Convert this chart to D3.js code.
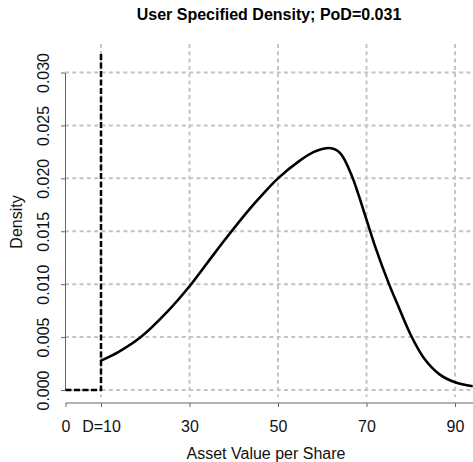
<!DOCTYPE html>
<html>
<head>
<meta charset="utf-8">
<script src="https://cdn.jsdelivr.net/npm/d3@7"></script>
<style>
  html, body { margin: 0; padding: 0; background: #fff; }
  svg { display: block; font-family: "Liberation Sans", Arial, sans-serif; }
</style>
</head>
<body>
<svg id="chart" width="473" height="462"></svg>
<script>
// ---- data ----
const curveX = [10, 14, 19, 25, 30, 34, 38, 44, 47, 50, 55, 58, 60, 62, 63, 64, 65, 66, 67, 68, 70, 72, 75, 77, 80, 83, 86.5, 90, 94];
const curveY = [0.00277, 0.0036, 0.0050, 0.0074, 0.0098, 0.0120, 0.0142, 0.0173, 0.0187, 0.0200, 0.0217, 0.02247, 0.02278, 0.02285, 0.02272, 0.02240, 0.0218, 0.0209, 0.0199, 0.0187, 0.0161, 0.0135, 0.0101, 0.0081, 0.0052, 0.0030, 0.00148, 0.00073, 0.00035];
const defaultX = [0, 10, 10];
const defaultY = [0, 0, 0.0318];
const xTicks = [0, 10, 30, 50, 70, 90];
const xTickLabels = ["0", "D=10", "30", "50", "70", "90"];
const xGrid = [10, 30, 50, 70, 90];
const yTicks = [0, 0.005, 0.010, 0.015, 0.020, 0.025, 0.030];
const yTickLabels = ["0.000", "0.005", "0.010", "0.015", "0.020", "0.025", "0.030"];
const titleText = "User Specified Density; PoD=0.031";
const xTitle = "Asset Value per Share";
const yTitle = "Density";

// ---- layout ----
const W = 473, H = 462;
const plot = { left: 65, top: 44, bottom: 397, axisY: 403 };
const svg = d3.select("#chart");

const x = d3.scaleLinear().domain([0, 10, 90]).range([65.5, 101, 455]);
const y = d3.scaleLinear().domain([0, 0.030]).range([390, 72.5]);

const gridColor = "#c4c4c4";
// vertical grid
svg.append("g").selectAll("line").data(xGrid).join("line")
  .attr("x1", d => x(d)).attr("x2", d => x(d))
  .attr("y1", plot.top).attr("y2", plot.bottom)
  .attr("stroke", gridColor).attr("stroke-width", 2)
  .attr("stroke-dasharray", "4,3.3");
// horizontal grid
svg.append("g").selectAll("line").data(yTicks).join("line")
  .attr("x1", plot.left).attr("x2", W)
  .attr("y1", d => y(d)).attr("y2", d => y(d))
  .attr("stroke", gridColor).attr("stroke-width", 2)
  .attr("stroke-dasharray", "4,3.3");

// y axis
const yAxis = svg.append("g")
  .attr("transform", `translate(${plot.left},0)`)
  .call(d3.axisLeft(y).tickValues(yTicks).tickSize(4).tickSizeOuter(0)
    .tickFormat((d, i) => yTickLabels[i]));
yAxis.select(".domain").attr("stroke", "#666");
yAxis.selectAll(".tick line").attr("stroke", "#666");
yAxis.selectAll(".tick text")
  .attr("transform", "rotate(-90)")
  .attr("x", 0).attr("y", -16).attr("dy", 0)
  .attr("text-anchor", "middle")
  .attr("font-size", 16).attr("fill", "#111");

// x axis
const xAxis = svg.append("g")
  .attr("transform", `translate(0,${plot.axisY})`)
  .call(d3.axisBottom(x).tickValues(xTicks).tickSize(4).tickSizeOuter(0)
    .tickFormat((d, i) => xTickLabels[i]));
xAxis.select(".domain").remove();
xAxis.append("line")
  .attr("x1", x(0)).attr("x2", W).attr("y1", 0).attr("y2", 0)
  .attr("stroke", "#666");
xAxis.selectAll(".tick line").attr("stroke", "#666");
xAxis.selectAll(".tick text")
  .attr("y", 29).attr("dy", 0)
  .attr("font-size", 16).attr("fill", "#111");

// default (point mass) dashed line
const defPts = defaultX.map((d, i) => [d, defaultY[i]]);
svg.append("path")
  .attr("d", d3.line().x(d => x(d[0])).y(d => y(d[1]))(defPts))
  .attr("fill", "none").attr("stroke", "#000").attr("stroke-width", 2.5)
  .attr("stroke-dasharray", "6,2.5");

// density curve
const pts = curveX.map((d, i) => [d, curveY[i]]);
svg.append("path")
  .attr("d", d3.line().x(d => x(d[0])).y(d => y(d[1])).curve(d3.curveCatmullRom.alpha(0.5))(pts))
  .attr("fill", "none").attr("stroke", "#000").attr("stroke-width", 2.6)
  .attr("stroke-linejoin", "round");

// titles
svg.append("text").attr("x", 269).attr("y", 20)
  .attr("text-anchor", "middle").attr("font-size", 16).attr("font-weight", "bold")
  .text(titleText);
svg.append("text").attr("x", 266).attr("y", 459)
  .attr("text-anchor", "middle").attr("font-size", 16).attr("fill", "#111")
  .text(xTitle);
svg.append("text")
  .attr("transform", "translate(22,222) rotate(-90)")
  .attr("text-anchor", "middle").attr("font-size", 16).attr("fill", "#111")
  .text(yTitle);
</script>
</body>
</html>
